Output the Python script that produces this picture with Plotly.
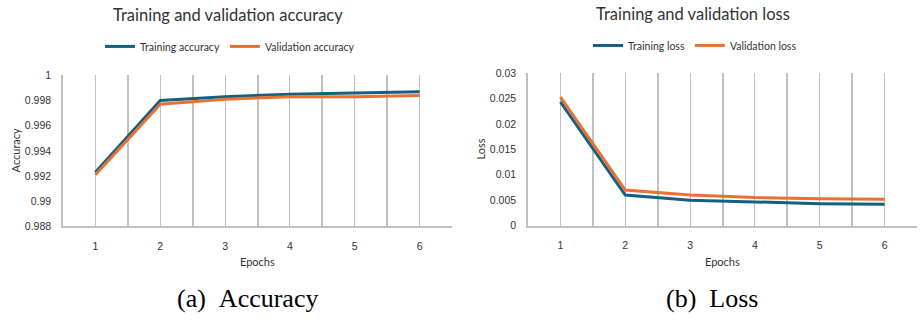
import plotly.graph_objects as go

epochs = [1, 2, 3, 4, 5, 6]
epoch_labels = ["1", "2", "3", "4", "5", "6"]
band_edges = [0.5, 1.5, 2.5, 3.5, 4.5, 5.5, 6.5]

train_acc = [0.9923, 0.9980, 0.9983, 0.9985, 0.9986, 0.9987]
val_acc = [0.9921, 0.9977, 0.9981, 0.9983, 0.9983, 0.9984]
acc_ticks = [0.988, 0.990, 0.992, 0.994, 0.996, 0.998, 1.0]
acc_tick_labels = ["0.988", "0.99", "0.992", "0.994", "0.996", "0.998", "1"]

train_loss = [0.0244, 0.0060, 0.0050, 0.0046, 0.0043, 0.0042]
val_loss = [0.0253, 0.0070, 0.0060, 0.0055, 0.0053, 0.0052]
loss_ticks = [0, 0.005, 0.01, 0.015, 0.02, 0.025, 0.03]
loss_tick_labels = ["0", "0.005", "0.01", "0.015", "0.02", "0.025", "0.03"]

BLUE = "#156082"
ORANGE = "#E97132"
GRID = "#c0c0c0"
TXT = "#333333"
SANS = "Lato"
TICKFONT = dict(family="Liberation Sans", size=10.5, color=TXT)

fig = go.Figure()
fig.add_trace(go.Scatter(x=epochs, y=train_acc, mode="lines", name="Training accuracy",
                         line=dict(color=BLUE, width=3), xaxis="x", yaxis="y", legend="legend"))
fig.add_trace(go.Scatter(x=epochs, y=val_acc, mode="lines", name="Validation accuracy",
                         line=dict(color=ORANGE, width=3), xaxis="x", yaxis="y", legend="legend"))
fig.add_trace(go.Scatter(x=epochs, y=train_loss, mode="lines", name="Training loss",
                         line=dict(color=BLUE, width=3), xaxis="x2", yaxis="y2", legend="legend2"))
fig.add_trace(go.Scatter(x=epochs, y=val_loss, mode="lines", name="Validation loss",
                         line=dict(color=ORANGE, width=3), xaxis="x2", yaxis="y2", legend="legend2"))

def xax(domain, anchor):
    return dict(domain=domain, anchor=anchor, range=[0.5, 6.5], tickmode="array",
                tickvals=epochs, ticktext=epoch_labels, showgrid=True, gridcolor=GRID, gridwidth=1,
                minor=dict(tickmode="array", tickvals=band_edges, showgrid=True, gridcolor=GRID, gridwidth=1.5),
                showline=True, linecolor=GRID, linewidth=1.5, zeroline=False, ticks="",
                ticklabelstandoff=9, tickfont=TICKFONT, fixedrange=True)

def yax(domain, anchor, rng, vals, text):
    return dict(domain=domain, anchor=anchor, range=rng, tickmode="array", tickvals=vals,
                ticktext=text, showgrid=False, zeroline=False, showline=True, linecolor=GRID,
                linewidth=1.5, ticks="", ticklabelstandoff=8, tickfont=TICKFONT, fixedrange=True)

W, H = 920, 322
fig.update_layout(
    width=W, height=H, margin=dict(l=0, r=0, t=0, b=0),
    paper_bgcolor="white", plot_bgcolor="white", showlegend=True,
    xaxis=xax([63 / W, 452 / W], "y"),
    yaxis=yax([(H - 229) / H, (H - 72) / H], "x", [0.988, 1.0], acc_ticks, acc_tick_labels),
    xaxis2=xax([528 / W, 917 / W], "y2"),
    yaxis2=yax([(H - 228) / H, (H - 70) / H], "x2", [0, 0.03], loss_ticks, loss_tick_labels),
    legend=dict(orientation="h", x=230 / W, y=(H - 42) / H, xanchor="center", yanchor="middle",
                font=dict(family=SANS, size=10.5, color=TXT), bgcolor="rgba(0,0,0,0)"),
    legend2=dict(orientation="h", x=695 / W, y=(H - 41) / H, xanchor="center", yanchor="middle",
                 font=dict(family=SANS, size=10.5, color=TXT), bgcolor="rgba(0,0,0,0)"),
)

ann = [
    dict(text="Training and validation accuracy", x=228 / W, y=(H - 9) / H, size=16.5),
    dict(text="Training and validation loss", x=693 / W, y=(H - 8) / H, size=16.5),
    dict(text="Epochs", x=257.5 / W, y=(H - 265) / H, size=11),
    dict(text="Epochs", x=722.5 / W, y=(H - 265) / H, size=11),
]
for a in ann:
    fig.add_annotation(text=a["text"], x=a["x"], y=a["y"], xref="paper", yref="paper",
                       xanchor="center", yanchor="middle", showarrow=False,
                       font=dict(family=SANS, size=a["size"], color=TXT))
fig.add_annotation(text="Accuracy", x=15 / W, y=(H - 150) / H, xref="paper", yref="paper",
                   xanchor="center", yanchor="middle", showarrow=False, textangle=-90,
                   font=dict(family=SANS, size=11, color=TXT))
fig.add_annotation(text="Loss", x=480 / W, y=(H - 149) / H, xref="paper", yref="paper",
                   xanchor="center", yanchor="middle", showarrow=False, textangle=-90,
                   font=dict(family=SANS, size=11, color=TXT))
fig.add_annotation(text="(a)\u2002Accuracy", x=247.5 / W, y=(H - 304) / H, xref="paper", yref="paper",
                   xanchor="center", yanchor="middle", showarrow=False,
                   font=dict(family="Liberation Serif", size=26, color="black"))
fig.add_annotation(text="(b)\u2002Loss", x=711.5 / W, y=(H - 304) / H, xref="paper", yref="paper",
                   xanchor="center", yanchor="middle", showarrow=False,
                   font=dict(family="Liberation Serif", size=26, color="black"))

fig.write_html("out.html", config={"displayModeBar": False},
               post_script="document.body.style.margin='0';document.body.style.overflow='hidden';")
